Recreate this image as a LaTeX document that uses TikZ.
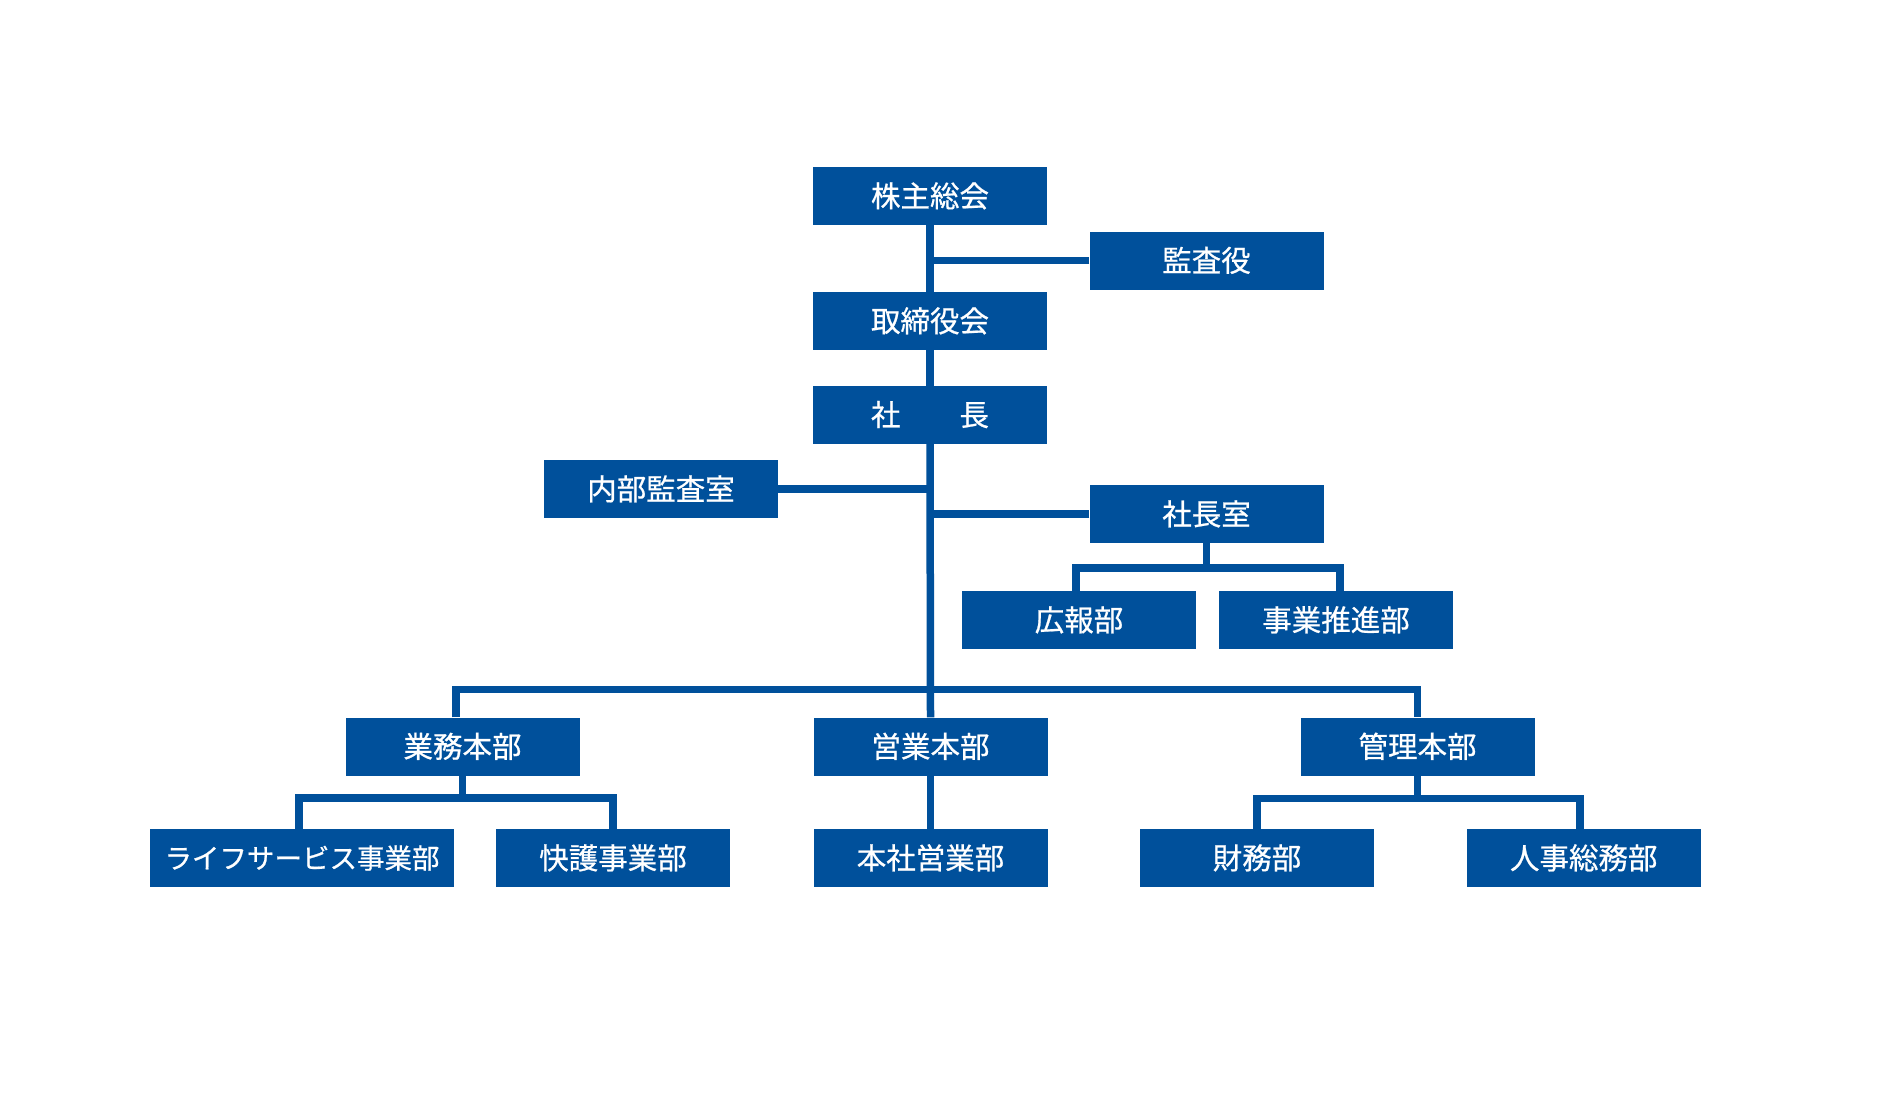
\documentclass[tikz,border=0pt]{standalone}
\usepackage{fontspec}
\newfontfamily\jp[FakeBold=0.7]{Noto Sans CJK JP}
\definecolor{orgblue}{RGB}{0,80,155}
\begin{document}
\begin{tikzpicture}[x=1pt,y=-1pt,
  box/.style={fill=orgblue,text=white,minimum width=234pt,minimum height=58pt,inner sep=0pt,
    font=\jp\fontsize{29.5}{31}\selectfont,text height=25.8pt,text depth=3.7pt},
  smallbox/.style={box,font=\jp\fontsize{27.5}{30}\selectfont,text height=24.2pt,text depth=3.3pt},
  link/.style={draw=orgblue,line width=7.5pt,line join=miter}]
\useasboundingbox (0,0) rectangle (1900,1117);
\fill[white] (0,0) rectangle (1900,1117);
% nodes
\node[box] (kabu) at (930,196) {株主総会};
\node[box] (kansa) at (1206.5,260.5) {監査役};
\node[box] (tori) at (930,321) {取締役会};
\node[box] (shacho) at (930,414.7) {社　　長};
\node[box] (naibu) at (661,489) {内部監査室};
\node[box] (shitsu) at (1206.5,514) {社長室};
\node[box] (kouhou) at (1079,620) {広報部};
\node[box] (suishin) at (1336,620) {事業推進部};
\node[box] (gyomu) at (462.5,746.5) {業務本部};
\node[box] (eigyo) at (930.5,746.5) {営業本部};
\node[box] (kanri) at (1417.5,746.5) {管理本部};
\node[smallbox,minimum width=304pt] (life) at (302,858) {ライフサービス事業部};
\node[box] (kaigo) at (613,858) {快護事業部};
\node[box] (honsha) at (930.5,858) {本社営業部};
\node[box] (zaimu) at (1257,858) {財務部};
\node[box] (jinji) at (1583.7,858) {人事総務部};
% bus coordinates
\coordinate (sb) at (1206.5,568);
\coordinate (mb) at (930.5,689.7);
\coordinate (mbl) at (456,689.7);
\coordinate (gb) at (462.5,798);
\coordinate (kb) at (1417.5,798.5);
% connectors
\draw[link] (kabu.south) -- (tori.north);
\draw[link] (kansa.west) -- (kansa.west -| kabu.south);
\draw[link] (tori.south) -- (shacho.north);
\draw[link] (shacho.south) -- (eigyo.north);
\draw[link] (naibu.east) -- (naibu.east -| shacho.south);
\draw[link] (shitsu.west) -- (shitsu.west -| shacho.south);
\draw[link] (shitsu.south) -- (sb);
\draw[link] ([xshift=-3pt]kouhou.north) |- (sb) -| ([xshift=4pt]suishin.north);
\draw[link] (gyomu.north -| mbl) -- (mbl) -- (mb) -| (kanri.north);
\draw[link] (gyomu.south) -- (gb);
\draw[link] ([xshift=-3pt]life.north) |- (gb) -| (kaigo.north);
\draw[link] (eigyo.south) -- (honsha.north);
\draw[link] (kanri.south) -- (kb);
\draw[link] (zaimu.north) |- (kb) -| ([xshift=-3.5pt]jinji.north);
\end{tikzpicture}
\end{document}
